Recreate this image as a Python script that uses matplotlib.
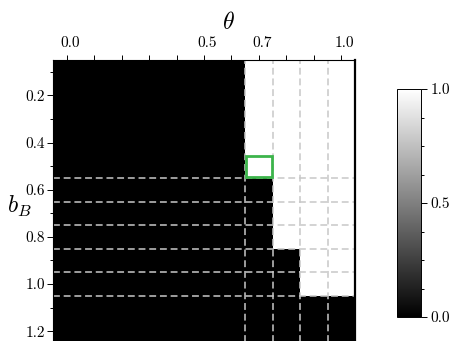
import matplotlib
matplotlib.use("Agg")
import matplotlib.pyplot as plt
import matplotlib.transforms as mtransforms
from matplotlib.patches import Rectangle
import numpy as np

plt.rcParams['font.family'] = 'serif'
plt.rcParams['font.serif'] = ['cmr10', 'DejaVu Serif']
plt.rcParams['mathtext.fontset'] = 'cm'
plt.rcParams['axes.formatter.use_mathtext'] = True

# ---- data ----
theta = [0.0, 0.1, 0.2, 0.3, 0.4, 0.5, 0.6, 0.7, 0.8, 0.9, 1.0]
b_B = [0.1, 0.2, 0.3, 0.4, 0.5, 0.6, 0.7, 0.8, 0.9, 1.0, 1.1, 1.2]
values = [
    [0, 0, 0, 0, 0, 0, 0, 1, 1, 1, 1],
    [0, 0, 0, 0, 0, 0, 0, 1, 1, 1, 1],
    [0, 0, 0, 0, 0, 0, 0, 1, 1, 1, 1],
    [0, 0, 0, 0, 0, 0, 0, 1, 1, 1, 1],
    [0, 0, 0, 0, 0, 0, 0, 1, 1, 1, 1],
    [0, 0, 0, 0, 0, 0, 0, 0, 1, 1, 1],
    [0, 0, 0, 0, 0, 0, 0, 0, 1, 1, 1],
    [0, 0, 0, 0, 0, 0, 0, 0, 1, 1, 1],
    [0, 0, 0, 0, 0, 0, 0, 0, 0, 1, 1],
    [0, 0, 0, 0, 0, 0, 0, 0, 0, 1, 1],
    [0, 0, 0, 0, 0, 0, 0, 0, 0, 0, 0],
    [0, 0, 0, 0, 0, 0, 0, 0, 0, 0, 0],
]
x_dash = [0.65, 0.75, 0.85, 0.95]
y_dash = [0.55, 0.65, 0.75, 0.85, 0.95, 1.05]
highlight = (0.7, 0.5)  # (theta, b_B) cell
x_major = [0.0, 0.5, 0.7, 1.0]
x_major_labels = ['0.0', '0.5', '0.7', '1.0']
y_major = [0.2, 0.4, 0.6, 0.8, 1.0, 1.2]
y_major_labels = ['0.2', '0.4', '0.6', '0.8', '1.0', '1.2']
cb_ticks = [0.0, 0.5, 1.0]
cb_labels = ['0.0', '0.5', '1.0']

# ---- figure ----
W, H = 456, 341
fig = plt.figure(figsize=(W / 100, H / 100), dpi=100)
ax = fig.add_axes([53 / W, 1 - 343 / H, 302 / W, 283 / H])

tx = np.array(theta)
by = np.array(b_B)
dx = 0.1
dy = 0.1
xe = np.concatenate([tx - dx / 2, [tx[-1] + dx / 2]])
ye = np.concatenate([by - dy / 2, [by[-1] + dy / 2]])
mesh = ax.pcolormesh(xe, ye, np.array(values, dtype=float), cmap='gray',
                     vmin=0, vmax=1, shading='flat')
ax.set_xlim(xe[0], xe[-1])
ax.set_ylim(ye[-1], ye[0])

dash_style = (0, (4.5, 2.5))
for xv in x_dash:
    ax.axvline(xv, color='#c8c8c8', lw=1.1, ls=dash_style)
for yv in y_dash:
    ax.axhline(yv, color='#c8c8c8', lw=1.1, ls=dash_style)

ax.add_patch(Rectangle((highlight[0] - dx / 2 + 0.003, highlight[1] - dy / 2 + 0.008),
                       dx - 0.006, dy - 0.014, fill=False,
                       edgecolor='#3cb44b', lw=2.0, zorder=5))

# x axis on top
ax.xaxis.tick_top()
ax.xaxis.set_label_position('top')
ax.set_xticks(x_major)
ax.set_xticklabels(x_major_labels, fontsize=11)
ax.set_xticks(theta, minor=True)
ax.tick_params(axis='x', which='major', length=3.5, width=0.7, pad=4, direction='out')
ax.tick_params(axis='x', which='minor', length=3.5, width=0.7, direction='out')
offset = mtransforms.ScaledTranslation(0.035, 0, fig.dpi_scale_trans)
for lab in ax.get_xticklabels():
    lab.set_transform(lab.get_transform() + offset)

ax.set_yticks(y_major)
ax.set_yticklabels(y_major_labels, fontsize=11)
ax.set_yticks(b_B, minor=True)
ax.tick_params(axis='y', which='major', length=4, width=0.7, pad=1.5, direction='out')
ax.tick_params(axis='y', which='minor', length=2.5, width=0.7, direction='out')

ax.set_xlabel(r'$\theta$', fontsize=17)
ax.xaxis.set_label_coords((228 - 53) / 302, (343 - 23) / 283)
ax.xaxis.label.set_verticalalignment('center')
ax.set_ylabel(r'$b_B$', fontsize=17, rotation=0)
ax.yaxis.set_label_coords((19 - 53) / 302, (343 - 206) / 283)
ax.yaxis.label.set_verticalalignment('center')
ax.yaxis.label.set_horizontalalignment('center')

for s in ax.spines.values():
    s.set_linewidth(0.8)
ax.spines['right'].set_linewidth(1.6)

# colorbar
cax = fig.add_axes([397 / W, 1 - 317 / H, 24 / W, 228 / H])
cb = fig.colorbar(mesh, cax=cax)
cb.set_ticks(cb_ticks)
cb.set_ticklabels(cb_labels, fontsize=11)
cb.ax.set_yticks(np.arange(0, 1.001, 0.125), minor=True)
cb.ax.tick_params(which='major', length=4, width=0.7, pad=3)
cb.ax.tick_params(which='minor', length=2.5, width=0.7)
cb.outline.set_linewidth(0.7)

fig.savefig('out.png', dpi=100)
